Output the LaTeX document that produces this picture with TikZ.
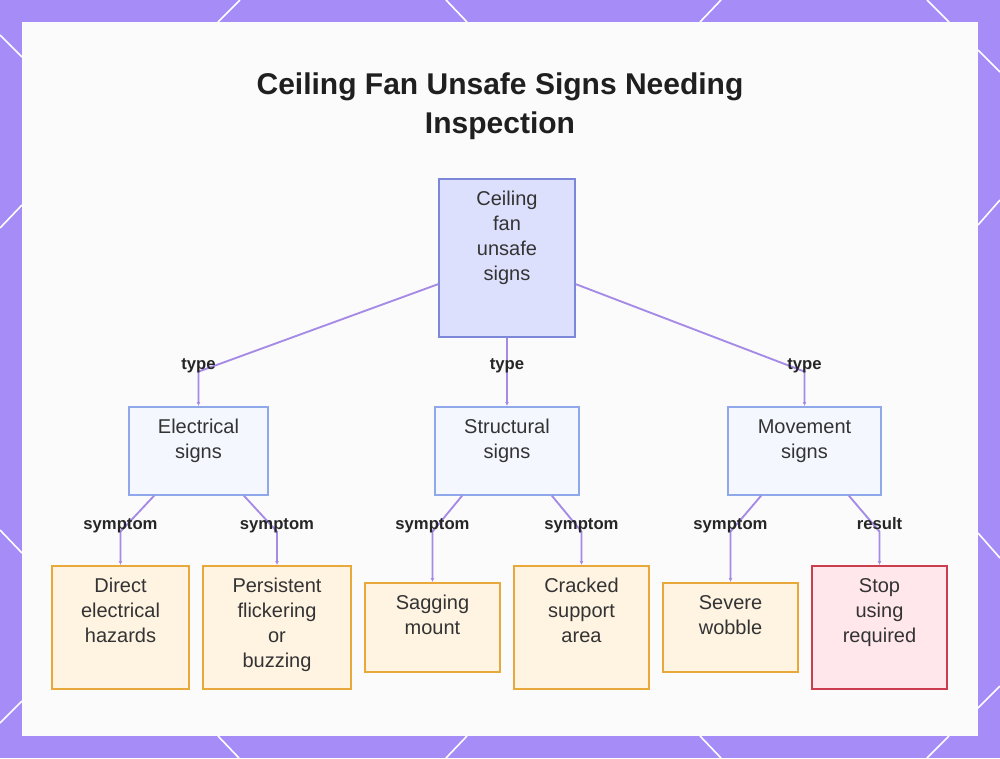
\documentclass[tikz,border=0pt]{standalone}
\usepackage{fontspec}
\setmainfont{Liberation Sans}
\usepackage{tikz}
\usetikzlibrary{positioning,arrows.meta,calc}
\definecolor{frame}{HTML}{A68CF7}
\definecolor{panel}{HTML}{FBFBFB}
\definecolor{link}{HTML}{A58AE6}
\definecolor{ink}{HTML}{333333}
\definecolor{rootfill}{HTML}{DDE0FC}
\definecolor{rootline}{HTML}{7C87D9}
\definecolor{typefill}{HTML}{F5F7FF}
\definecolor{typeline}{HTML}{8FA8EA}
\definecolor{signfill}{HTML}{FFF3E2}
\definecolor{signline}{HTML}{E9A83A}
\definecolor{stopfill}{HTML}{FFE7EB}
\definecolor{stopline}{HTML}{CC3D4D}

% box text: width, height, lines (first baseline fixed below the top)
\newcommand{\boxtxt}[3]{\parbox[c][#2][t]{#1}{\centering\rule{0pt}{20.25pt}#3}}

\tikzset{
  card/.style={draw,line width=1.2pt,inner sep=0pt,anchor=north,text=ink,
               font=\fontsize{15pt}{18.75pt}\selectfont},
  rootbox/.style={card,draw=rootline,fill=rootfill},
  typebox/.style={card,draw=typeline,fill=typefill},
  signbox/.style={card,draw=signline,fill=signfill},
  stopbox/.style={card,draw=stopline,fill=stopfill},
  wire/.style={draw=link,line width=1.4pt,-{Latex[length=3pt,width=3pt]}},
  lab/.style={font=\bfseries\fontsize{12.5pt}{15pt}\selectfont,text=black!85,
              anchor=base,inner sep=0pt,yshift=1.5pt}
}

\begin{document}
\begin{tikzpicture}[x=0.75pt,y=-0.75pt]
  \useasboundingbox (0,0) rectangle (1000,758);
  \fill[frame] (0,0) rectangle (1000,758);
  \foreach \a/\b/\c/\d in {240/0/218/22,446/0/467/22,721/0/700/22,927/0/949/22,
      218/736/239/758,467/736/446/758,700/736/721/758,949/736/927/758,
      0/35/22/57,22/205/0/228,0/530/22/553,22/701/0/723,
      978/50/1000/72,1000/200/978/225,1000/558/978/533,978/708/1000/686}
    \draw[white,line width=1.2pt] (\a,\b) -- (\c,\d);
  \fill[panel] (22,22) rectangle (978,736);

  \node[font=\bfseries\fontsize{22.5pt}{29.25pt}\selectfont,text=black!88,
        align=center,inner sep=0pt] (title) at (500,106)
    {Ceiling Fan Unsafe Signs Needing\\Inspection};

  \node[rootbox] (root) at (507,178) {\boxtxt{102pt}{118.5pt}{Ceiling\\fan\\unsafe\\signs}};

  \node[typebox] (elec)   at (198.5,406) {\boxtxt{104.25pt}{66pt}{Electrical\\signs}};
  \node[typebox] (struct) at (507,406)   {\boxtxt{108pt}{66pt}{Structural\\signs}};
  \node[typebox] (move)   at (804.5,406) {\boxtxt{114.75pt}{66pt}{Movement\\signs}};

  \node[signbox] (direct)  at (120.5,565) {\boxtxt{102.75pt}{92.25pt}{Direct\\electrical\\hazards}};
  \node[signbox] (flicker) at (277,565)   {\boxtxt{111pt}{92.25pt}{Persistent\\flickering\\or\\buzzing}};
  \node[signbox] (sag)     at (432.5,582) {\boxtxt{101.25pt}{66.75pt}{Sagging\\mount}};
  \node[signbox] (crack)   at (581.5,565) {\boxtxt{101.25pt}{92.25pt}{Cracked\\support\\area}};
  \node[signbox] (wobble)  at (730.5,582) {\boxtxt{101.25pt}{66.75pt}{Severe\\wobble}};
  \node[stopbox] (stop)    at (879.5,565) {\boxtxt{101.25pt}{92.25pt}{Stop\\using\\required}};

  \draw[wire] ($(root.south west)!0.335!(root.north west)$)
    -- ($(elec.north |- root.south)+(0,34)$) node[lab] {type} -- (elec.north);
  \draw[wire] (root.south) -- ($(root.south)+(0,34)$) node[lab] {type} -- (struct.north);
  \draw[wire] ($(root.south east)!0.335!(root.north east)$)
    -- ($(move.north |- root.south)+(0,34)$) node[lab] {type} -- (move.north);

  \draw[wire] ($(elec.south west)+(26,0)$)
    -- ($(direct.north |- elec.south)+(0,36)$) node[lab] {symptom} -- (direct.north);
  \draw[wire] ($(elec.south east)+(-25,0)$)
    -- ($(flicker.north |- elec.south)+(0,36)$) node[lab] {symptom} -- (flicker.north);
  \draw[wire] ($(struct.south west)+(28,0)$)
    -- ($(sag.north |- struct.south)+(0,36)$) node[lab] {symptom} -- (sag.north);
  \draw[wire] ($(struct.south east)+(-28,0)$)
    -- ($(crack.north |- struct.south)+(0,36)$) node[lab] {symptom} -- (crack.north);
  \draw[wire] ($(move.south west)+(34,0)$)
    -- ($(wobble.north |- move.south)+(0,36)$) node[lab] {symptom} -- (wobble.north);
  \draw[wire] ($(move.south east)+(-33,0)$)
    -- ($(stop.north |- move.south)+(0,36)$) node[lab] {result} -- (stop.north);
\end{tikzpicture}
\end{document}
